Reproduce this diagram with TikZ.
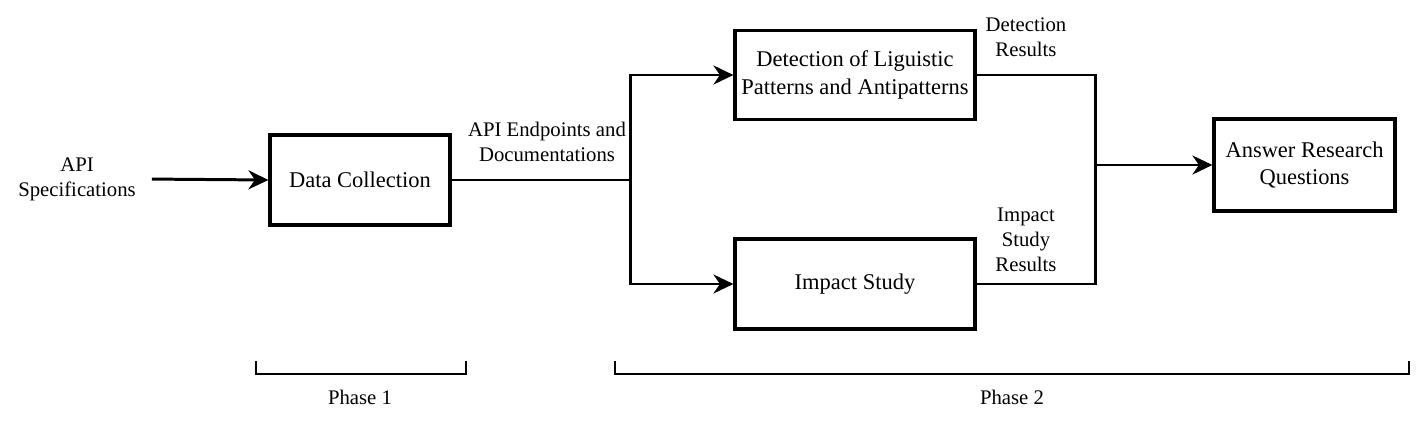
\documentclass[tikz,border=0pt]{standalone}
\usepackage{fontspec}
\setmainfont{LiberationSerif}[Extension=.ttf,UprightFont=*-Regular,BoldFont=*-Bold,ItalicFont=*-Italic]
\usepackage{tikz}
\usetikzlibrary{arrows.meta,calc}

\begin{document}
\begin{tikzpicture}[x=0.02cm,y=-0.02cm,
    stage/.style={draw,line width=1.8pt,align=center,font=\rmfamily\fontsize{12.8}{15.5}\selectfont},
    lbl/.style={align=center,font=\rmfamily\fontsize{11.8}{14.2}\selectfont},
    wire/.style={line width=1.7pt},
    arr/.style={wire,-{Stealth[length=4mm,width=3.8mm,inset=1.3mm]}},
    phase/.style={line width=1.3pt}]
      \useasboundingbox (0,0) rectangle (1417,422);
      \node[lbl] (spec) at (77,179) {API\\Specifications};
      \node[stage,minimum width=3.6cm,minimum height=1.8cm] (collect) at (360,180) {Data Collection};
      \node[stage,minimum width=4.8cm,minimum height=1.78cm] (detect) at (855,75) {Detection of Liguistic\\Patterns and Antipatterns};
      \node[stage,minimum width=4.8cm,minimum height=1.8cm] (impact) at (855,284) {Impact Study};
      \node[stage,minimum width=3.62cm,minimum height=1.84cm] (answer) at (1304.5,165) {Answer Research\\Questions};
      \coordinate (split) at (630,180);
      \coordinate (merge) at (1095,165);
      \draw[arr,shorten <=0.2cm] (spec.east) -- (collect.west);
      \draw[wire] (collect.east) -- (split);
      \draw[arr] (split) |- (detect.west);
      \draw[arr] (split) |- (impact.west);
      \draw[wire] (detect.east) -| (merge);
      \draw[wire] (impact.east) -| (merge);
      \draw[arr] (merge) -- (answer.west);
      \node[lbl] (docs) at (547,142) {API Endpoints and\\Documentations};
      \node[lbl] (detres) at (1026,37) {Detection\\Results};
      \node[lbl] (impres) at (1026,240) {Impact\\Study\\Results};
      \draw[phase] (256,361) |- (466,374) -- (466,361);
      \draw[phase] (615,361) |- (1409,374) -- (1409,361);
      \node[lbl] (phaseone) at (360,397) {Phase 1};
      \node[lbl] (phasetwo) at (1012,397) {Phase 2};
    \end{tikzpicture}
\end{document}
